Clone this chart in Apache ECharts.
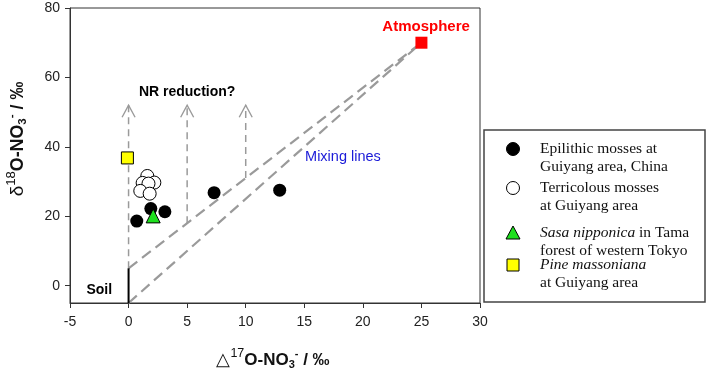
<!DOCTYPE html>
<html>
<head>
<meta charset="utf-8">
<script src="https://cdn.jsdelivr.net/npm/echarts@6/dist/echarts.min.js"></script>
<style>
  html, body { margin: 0; padding: 0; background: #fff; }
  #chart { width: 708px; height: 375px; }
</style>
</head>
<body>
<div id="chart"></div>
<script>
// data
var epilithic = [[0.7, 18.6], [1.9, 22.2], [3.1, 21.3], [7.3, 26.8], [12.9, 27.5]];
var terricolous = [[1.6, 31.6], [2.2, 29.7], [1.2, 29.6], [1.7, 29.4], [1.0, 27.3], [1.8, 26.5]];
var sasa = [[2.1, 20.1]];
var pine = [[-0.1, 36.8]];
var atmosphere = [[25, 70]];
var mixUpper = [[0, 5], [25, 70]];
var mixLower = [[0, -5], [25, 70]];
var soilLine = [[0, -5], [0, 5]];
var arrowX = [0, 5, 10];
var arrowFrom = [5, 18, 31];
var arrowTop = 52;
var xTicks = [-5, 0, 5, 10, 15, 20, 25, 30];
var yTicks = [0, 20, 40, 60, 80];

var chart = echarts.init(document.getElementById('chart'));
var gray = '#9a9a9a';
var sans = '"Liberation Sans", Arial, sans-serif';
var serif = '"Liberation Serif", "Times New Roman", serif';

var series = [];
series.push({
    type: 'line', data: mixUpper, symbol: 'none', z: 2, silent: true,
    lineStyle: { color: gray, width: 2.2, type: [11, 6] }
});
series.push({
    type: 'line', data: mixLower, symbol: 'none', z: 2, silent: true,
    lineStyle: { color: gray, width: 2.2, type: [11, 6] }
});
series.push({
    type: 'line', data: soilLine, symbol: 'none', z: 3, silent: true,
    lineStyle: { color: '#000', width: 2 }
});
for (var i = 0; i < arrowX.length; i++) {
    series.push({
        type: 'line', data: [[arrowX[i], arrowFrom[i]], [arrowX[i], arrowTop]],
        symbol: 'none', z: 2, silent: true,
        lineStyle: { color: gray, width: 1.5, type: [7, 5] }
    });
}
series.push({
    type: 'scatter', z: 2, silent: true,
    data: arrowX.map(function (x) { return [x, arrowTop]; }),
    symbol: 'path://M0,10 L5,0 L10,10',
    symbolSize: [13, 12], symbolOffset: [0, 6],
    itemStyle: { color: 'rgba(0,0,0,0)', borderColor: gray, borderWidth: 1.3, opacity: 1 }
});
series.push({
    type: 'scatter', data: epilithic, symbol: 'circle', symbolSize: 13, z: 5,
    itemStyle: { color: '#000', opacity: 1 }
});
series.push({
    type: 'scatter', data: terricolous, symbol: 'circle', symbolSize: 13, z: 5,
    itemStyle: { color: '#fff', borderColor: '#000', borderWidth: 1, opacity: 1 }
});
series.push({
    type: 'scatter', data: sasa, symbol: 'triangle', symbolSize: 14, z: 6,
    itemStyle: { color: '#1ee01e', borderColor: '#000', borderWidth: 1, opacity: 1 }
});
series.push({
    type: 'scatter', data: pine, symbol: 'rect', symbolSize: 12, z: 5,
    itemStyle: { color: '#ffff00', borderColor: '#000', borderWidth: 1, opacity: 1 }
});
series.push({
    type: 'scatter', data: atmosphere, symbol: 'rect', symbolSize: 12, z: 5,
    itemStyle: { color: '#ff0000', opacity: 1 }
});
// annotation texts placed in data units
function note(x, y, text, style) {
    return {
        type: 'scatter', data: [[x, y]], symbolSize: 0, silent: true, z: 7,
        itemStyle: { opacity: 1 },
        label: Object.assign({ show: true, position: 'inside', formatter: text, fontFamily: sans, opacity: 1 }, style)
    };
}
series.push(note(25.4, 74.6, 'Atmosphere', { color: '#ff0000', fontWeight: 'bold', fontSize: 15 }));
series.push(note(5, 55.8, 'NR reduction?', { color: '#000', fontWeight: 'bold', fontSize: 14 }));
series.push(note(18.3, 37, 'Mixing lines', { color: '#1a1ad8', fontSize: 14.5 }));
series.push(note(-2.5, -1.2, 'Soil', { color: '#000', fontWeight: 'bold', fontSize: 14 }));

var legendItems = [
    { y: 149, sym: 'circle', fill: '#000', text: 'Epilithic mosses at\nGuiyang area, China' },
    { y: 188, sym: 'circle', fill: '#fff', text: 'Terricolous mosses\nat Guiyang area' },
    { y: 233, sym: 'triangle', fill: '#1ee01e', text: '{i|Sasa nipponica} in Tama\nforest of western Tokyo' },
    { y: 265, sym: 'rect', fill: '#ffff00', text: '{i|Pine massoniana}\nat Guiyang area' }
];
var graphics = [{
    type: 'rect', shape: { x: 484, y: 130, width: 221, height: 172 },
    style: { fill: '#fff', stroke: '#444', lineWidth: 1.5 }
}];
legendItems.forEach(function (it) {
    var shape;
    if (it.sym === 'circle') {
        shape = { type: 'circle', shape: { cx: 513, cy: it.y, r: 6.5 },
            style: { fill: it.fill, stroke: '#000', lineWidth: 1 } };
    } else if (it.sym === 'triangle') {
        shape = { type: 'polygon', shape: { points: [[513, it.y - 7], [520, it.y + 6], [506, it.y + 6]] },
            style: { fill: it.fill, stroke: '#000', lineWidth: 1 } };
    } else {
        shape = { type: 'rect', shape: { x: 507, y: it.y - 6, width: 12, height: 12 },
            style: { fill: it.fill, stroke: '#000', lineWidth: 1 } };
    }
    graphics.push(shape);
    graphics.push({
        type: 'text', x: 540, y: it.y - 9,
        style: {
            text: it.text, fill: '#111', font: '15.5px ' + serif, lineHeight: 18,
            rich: { i: { fontStyle: 'italic', fontSize: 15.5, fontFamily: serif, lineHeight: 18 } }
        }
    });
});
// axis titles with super/subscripts
function titleRich(k) {
    return {
        d: { fontSize: 18 * k, fontFamily: sans, fill: '#111' },
        sup: { fontSize: 12.5 * k, fontFamily: sans, fill: '#111', padding: [0, 0, 12 * k, 0] },
        b: { fontSize: 17 * k, fontWeight: 'bold', fontFamily: sans, fill: '#111' },
        sub: { fontSize: 11 * k, fontWeight: 'bold', fontFamily: sans, fill: '#111', padding: [10 * k, 0, 0, 0] },
        sm: { fontSize: 11 * k, fontWeight: 'bold', fontFamily: sans, fill: '#111', padding: [0, 0, 12 * k, 0] }
    };
}
graphics.push({
    type: 'text', x: 18, y: 139, rotation: Math.PI / 2,
    style: {
        text: '{d|δ}{sup|18}{b|O-NO}{sub|3}{sm|-}{b| / ‰}',
        align: 'center', verticalAlign: 'middle', rich: titleRich(1.05)
    }
});
graphics.push({
    type: 'text', x: 273, y: 360,
    style: {
        text: '{d|△}{sup|17}{b|O-NO}{sub|3}{sm|-}{b| / ‰}',
        align: 'center', verticalAlign: 'middle', rich: titleRich(1)
    }
});

var option = {
    animation: false,
    backgroundColor: '#fff',
    grid: { left: 70, right: 228, top: 8, bottom: 72, show: true, borderColor: '#333', borderWidth: 1 },
    xAxis: {
        type: 'value', min: xTicks[0], max: xTicks[xTicks.length - 1], interval: 5,
        splitLine: { show: false },
        axisLine: { onZero: false, lineStyle: { color: '#333' } },
        axisTick: { length: 5, lineStyle: { color: '#333' } },
        axisLabel: { fontSize: 14, fontFamily: sans, color: '#222', margin: 12 }
    },
    yAxis: {
        type: 'value', min: -5, max: 80,
        splitLine: { show: false },
        axisLine: { show: true, onZero: false, lineStyle: { color: '#333' } },
        axisTick: { show: true, length: 5, lineStyle: { color: '#333' }, customValues: yTicks },
        axisLabel: { fontSize: 14, fontFamily: sans, color: '#222', margin: 10, customValues: yTicks }
    },
    series: series,
    graphic: graphics
};
chart.setOption(option);
</script>
</body>
</html>
